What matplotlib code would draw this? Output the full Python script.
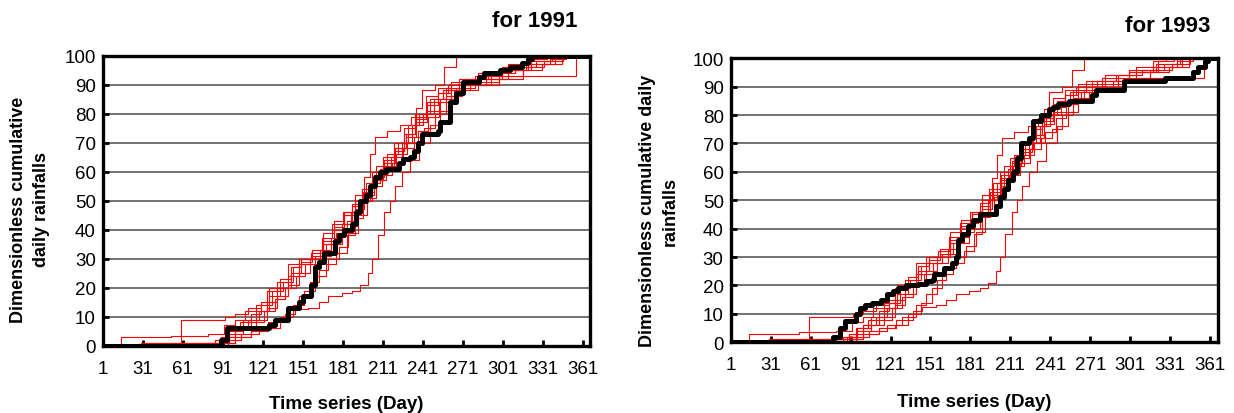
import matplotlib
matplotlib.use('Agg')
import matplotlib.pyplot as plt

plt.rcParams['font.family'] = ['Liberation Sans', 'DejaVu Sans']

# simulated cumulative rainfall curves (same set drawn on both years), day -> %
red_days = [
    [1, 15, 52, 80, 92, 100, 108, 116, 124, 132, 140, 148, 158, 166, 174, 182, 190, 198, 206, 214, 222, 230, 238, 246, 256, 268, 282, 300, 318, 336, 348, 367],
    [1, 60, 93, 100, 110, 120, 126, 134, 142, 150, 158, 166, 174, 182, 188, 196, 204, 212, 220, 228, 236, 244, 252, 262, 276, 292, 310, 326, 338, 367],
    [1, 30, 85, 95, 104, 112, 120, 128, 136, 144, 150, 158, 166, 174, 182, 190, 197, 201, 205, 214, 224, 232, 236, 240, 250, 257, 266, 367],
    [1, 88, 100, 112, 125, 138, 145, 155, 163, 170, 180, 188, 194, 200, 203, 207, 212, 216, 220, 225, 231, 238, 246, 254, 262, 270, 282, 298, 316, 330, 345, 367],
    [1, 85, 96, 106, 116, 124, 132, 140, 148, 156, 164, 172, 180, 188, 196, 204, 212, 220, 228, 236, 244, 254, 264, 276, 292, 305, 356, 367],
    [1, 80, 90, 100, 110, 118, 126, 134, 142, 150, 157, 165, 173, 181, 188, 195, 203, 211, 219, 227, 235, 243, 252, 262, 280, 300, 320, 336, 367],
    [1, 90, 100, 112, 124, 134, 144, 152, 160, 168, 176, 184, 190, 196, 203, 210, 218, 226, 234, 242, 250, 258, 266, 280, 298, 316, 332, 346, 367],
    [1, 35, 88, 96, 106, 116, 124, 132, 140, 148, 156, 164, 172, 180, 187, 194, 201, 209, 217, 225, 233, 241, 249, 258, 268, 282, 300, 322, 334, 367],
    [1, 95, 105, 118, 130, 140, 148, 156, 163, 170, 178, 185, 192, 199, 206, 213, 221, 229, 237, 245, 253, 262, 272, 288, 305, 322, 340, 367],
    [1, 70, 90, 100, 112, 122, 130, 138, 146, 153, 160, 168, 176, 184, 190, 197, 204, 211, 219, 227, 235, 243, 252, 260, 272, 290, 305, 318, 328, 367],
]
red_vals = [
    [0, 3, 3.5, 4, 7, 9, 12, 14, 19, 22, 28, 30, 31, 36, 40, 45, 50, 56, 62, 66, 70, 76, 80, 85, 88, 90, 92, 95, 97, 99, 100, 100],
    [0, 9, 10, 11, 13, 15, 20, 23, 27, 29, 30, 35, 41, 45, 48, 53, 59, 64, 68, 73, 79, 84, 87, 90, 92, 94, 96, 98, 100, 100],
    [0, 1, 2, 5, 8, 11, 14, 19, 22, 27, 30, 33, 39, 43, 46, 52, 58, 66, 72, 74, 76, 79, 82, 88, 90, 96, 100, 100],
    [0, 1, 3, 5, 8, 11, 12.5, 13, 15, 17, 18, 19, 21, 25, 30, 38, 46, 50, 55, 60, 64, 70, 76, 81, 86, 88, 90, 92, 95, 97, 100, 100],
    [0, 1, 4, 6, 9, 13, 17, 21, 25, 28, 31, 35, 40, 46, 52, 58, 63, 68, 72, 77, 81, 85, 88, 90, 92, 93, 100, 100],
    [0, 1, 3, 6, 9, 12, 17, 20, 25, 30, 32, 37, 42, 46, 49, 54, 60, 65, 70, 75, 80, 86, 89, 91, 93, 95, 98, 100, 100],
    [0, 1, 3, 5, 6, 10, 14, 19, 24, 28, 32, 38, 44, 50, 55, 59, 63, 68, 72, 75, 80, 86, 89, 91, 93, 96, 98, 100, 100],
    [0, 1, 2, 5, 9, 12, 15, 20, 24, 28, 30, 33, 37, 42, 46, 50, 56, 61, 65, 70, 76, 80, 85, 89, 92, 94, 96, 99, 100, 100],
    [0, 2, 4, 6, 9, 13, 17, 22, 26, 30, 34, 39, 45, 51, 57, 62, 66, 70, 74, 79, 84, 88, 90, 92, 95, 97, 100, 100],
    [0, 1, 3, 6, 8, 12, 16, 20, 24, 28, 31, 35, 39, 43, 47, 52, 57, 62, 67, 73, 78, 83, 87, 90, 92, 94, 97, 99, 100, 100],
]

# observed curves
obs91_days = [1, 86, 90, 94, 120, 126, 130, 137, 140, 146, 148, 151, 155, 157, 160, 163, 167, 172, 175, 178,
              182, 188, 191, 194, 198, 201, 205, 209, 213, 220, 223, 226, 231, 234, 237, 240, 250, 252, 254, 261,
              266, 271, 281, 283, 287, 297, 299, 306, 312, 315, 320, 323, 366]
obs91_vals = [0, 0, 2, 6, 6, 7, 9, 9, 13, 13, 15, 17, 17, 21, 27, 29, 32, 32, 36, 38,
              40, 42, 46, 50, 52, 55, 58, 60, 61, 61, 63, 64.5, 65, 67, 70, 73, 73, 74, 77, 84,
              87, 91, 91, 92.5, 94, 94, 95, 96, 96, 97.5, 99, 100, 100]

obs93_days = [1, 74, 78, 83, 87, 95, 98, 102, 107, 114, 118, 123, 127, 133, 142, 148, 152, 154, 161, 167,
              170, 172, 175, 179, 183, 188, 200, 203, 206, 209, 213, 216, 219, 225, 228, 234, 240, 243, 247, 255,
              272, 275, 296, 327, 348, 352, 357, 359, 367]
obs93_vals = [0, 0, 2, 5, 7.5, 10, 12, 13, 14, 15, 17, 18, 19, 20, 20.5, 21.5, 22, 24, 26, 28,
              30, 36, 38, 41, 43, 45, 48, 51, 54, 57, 60, 65, 70, 72, 78, 80, 82, 83, 84, 85,
              87, 89, 92, 93, 95, 97, 99, 100, 100]

day_ticks = list(range(1, 362, 30))
pct_ticks = list(range(0, 101, 10))


def draw_panel(ax, days, vals, xmax):
    for d, v in zip(red_days, red_vals):
        ax.plot(d, v, color='#ff0000', lw=0.8, drawstyle='steps-post', zorder=2)
    ax.plot(days, vals, color='black', lw=3.6, drawstyle='steps-post', zorder=3)

    ax.set_xlim(1, xmax)
    ax.set_ylim(0, 100)
    ax.set_xticks(day_ticks)
    ax.set_yticks(pct_ticks)
    ax.yaxis.grid(True, color='#5a5a5a', lw=1.2)
    ax.set_axisbelow(True)
    for s in ax.spines.values():
        s.set_linewidth(2.4)
        s.set_color('black')
        s.set_zorder(4)
    ax.tick_params(direction='in', length=4, width=2, labelsize=13.5)
    ax.tick_params(axis='x', pad=10)
    ax.tick_params(axis='y', pad=5)


fig = plt.figure(figsize=(12.34, 4.14), dpi=100)

ax1 = fig.add_axes([0.0832, 0.1626, 0.3947, 0.7005])
draw_panel(ax1, obs91_days, obs91_vals, 366)
fig.text(0.4676, 0.947, 'for 1991', ha='right', va='center', fontsize=16, fontweight='bold')
fig.text(0.0243, 0.493, 'Dimensionless cumulative\ndaily rainfalls', rotation=90,
         ha='center', va='center', fontsize=13, fontweight='bold', linespacing=1.4)
fig.text(0.2805, 0.022, 'Time series (Day)', ha='center', va='center', fontsize=13.5, fontweight='bold')

ax2 = fig.add_axes([0.5921, 0.1708, 0.3951, 0.686])
draw_panel(ax2, obs93_days, obs93_vals, 367)
fig.text(0.9805, 0.935, 'for 1993', ha='right', va='center', fontsize=16, fontweight='bold')
fig.text(0.534, 0.49, 'Dimensionless cumulative daily\nrainfalls', rotation=90,
         ha='center', va='center', fontsize=13, fontweight='bold', linespacing=1.4)
fig.text(0.7897, 0.027, 'Time series (Day)', ha='center', va='center', fontsize=13.5, fontweight='bold')

fig.savefig('out.png', dpi=100)
